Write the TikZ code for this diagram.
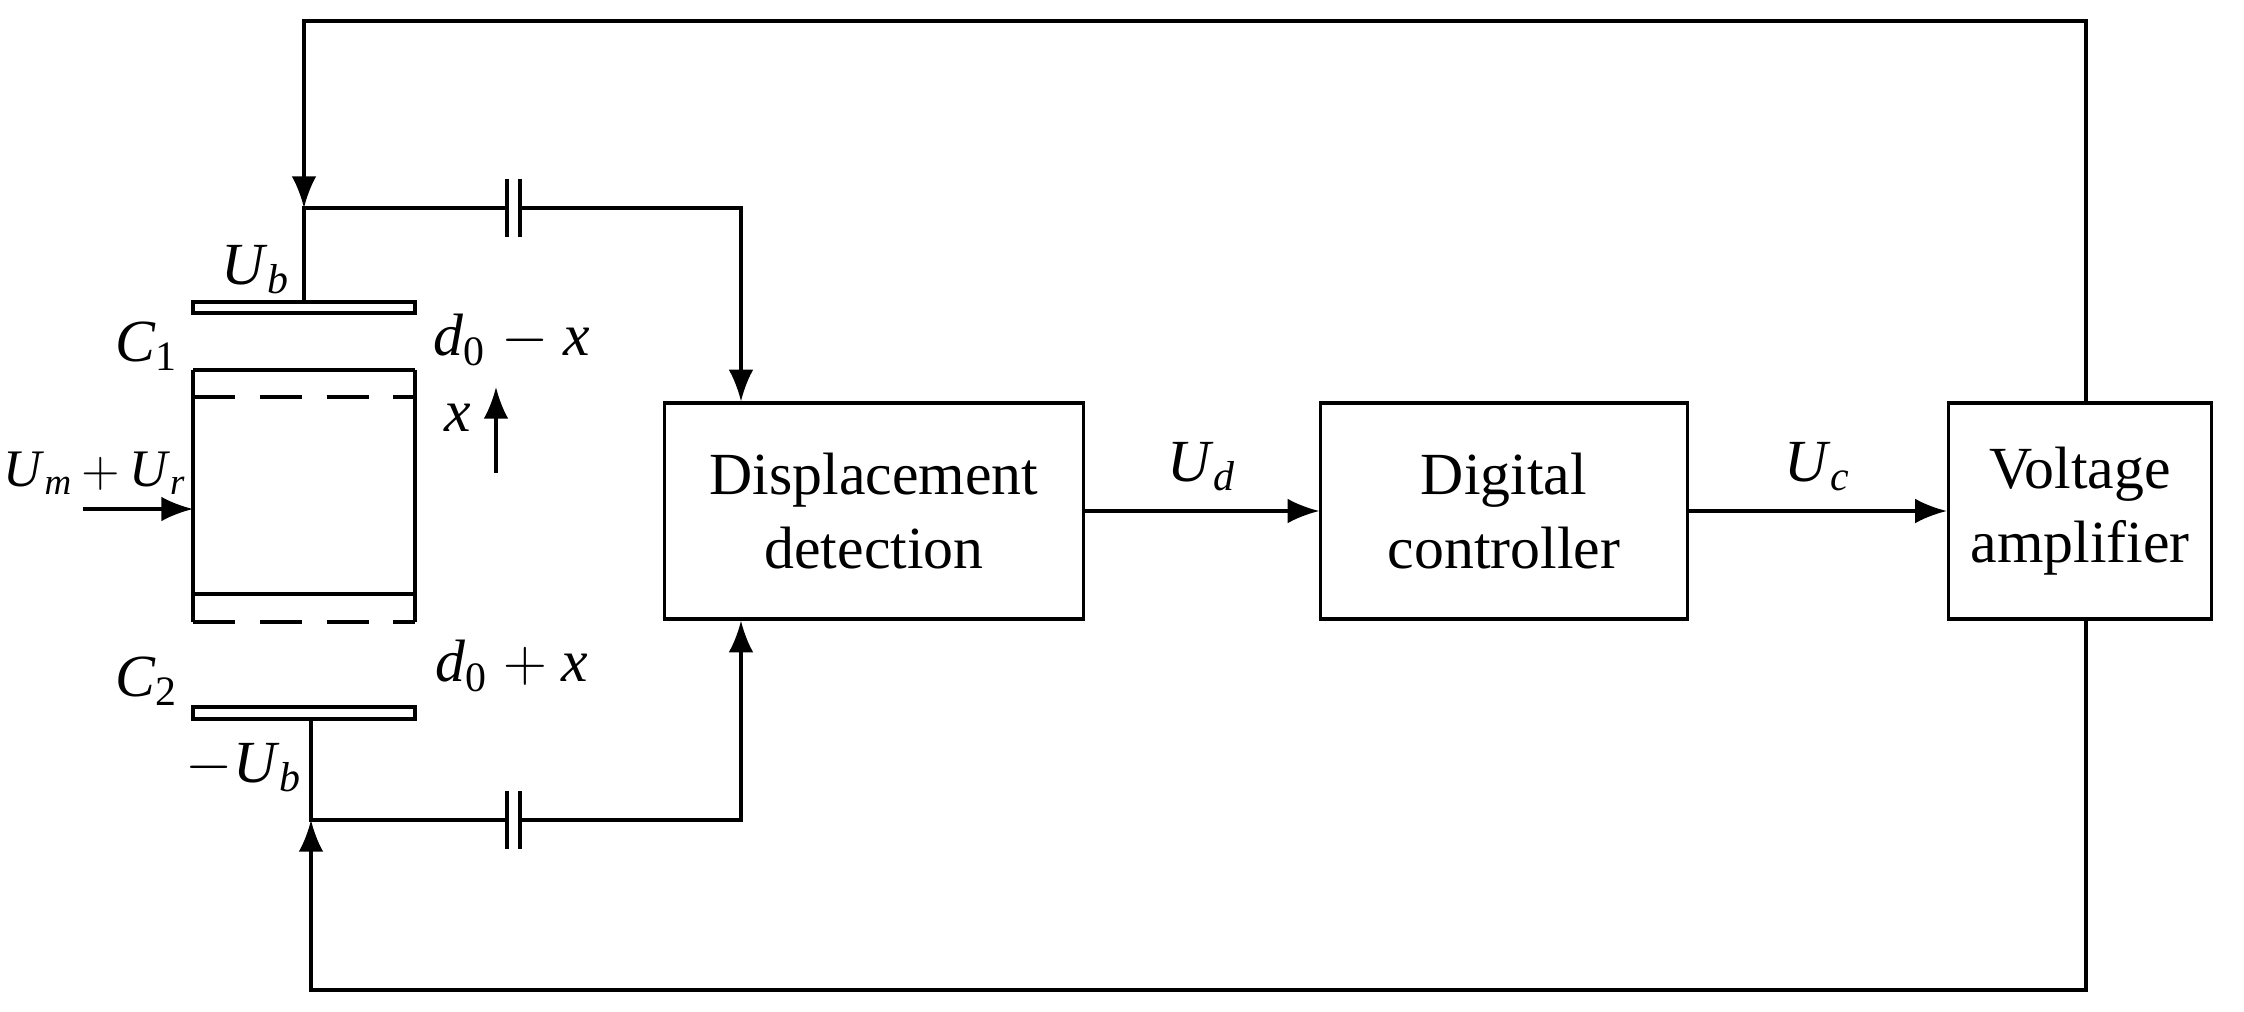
\documentclass[tikz,border=0pt]{standalone}
\usepackage{fontspec}
\setmainfont{Liberation Serif}
\usepackage{tikz}
\usetikzlibrary{arrows.meta,positioning}

\newcommand{\vsym}[2]{\textit{#1}\textsubscript{#2}}

\begin{document}
\begin{tikzpicture}[x=0.01cm,y=-0.01cm,line width=0.9pt,
	block/.style={draw,line width=0.9pt,minimum width=4.18cm,minimum height=2.16cm,align=center,font=\fontsize{17}{21}\selectfont},
	signal/.style={-{Latex[length=9pt,width=7pt]}},
	lbl/.style={font=\fontsize{17}{20}\selectfont}]

	\useasboundingbox (0,0) rectangle (2244,1011);

	% blocks
	\node[block] (detect) at (874,511) {Displacement\\detection};
	\node[block,minimum width=3.66cm] (ctrl) at (1504,511) {Digital\\controller};
	\node[block,minimum width=2.63cm] (amp) at (2080,511) {Voltage\\amplifier};

	\draw[signal] (detect) -- node[lbl,above=2pt] {\vsym{U}{\textit{d}}} (ctrl);
	\draw[signal] (ctrl) -- node[lbl,above=2pt] {\vsym{U}{\textit{c}}} (amp);

	% capacitor plates and proof mass
	\draw (193,302) rectangle (415,313);
	\draw (193,707) rectangle (415,719);
	\draw (193,370) -- (415,370);
	\draw (193,594) -- (415,594);
	\draw (193,370) -- (193,622);
	\draw (415,370) -- (415,622);
	\draw[dashed,dash pattern=on 12pt off 7pt] (193,397) -- (415,397);
	\draw[dashed,dash pattern=on 12pt off 7pt] (193,622) -- (415,622);

	\coordinate (mass) at (193,509);
	\coordinate (inp) at (83,509);
	\draw[signal] (inp) -- (mass);
	\node[lbl,font=\fontsize{15}{18}\selectfont,inner sep=0pt] at (95,473) {\vsym{U}{\textit{m}}\,$+$\,\vsym{U}{\textit{r}}};

	\node[lbl] at (147,346) {\vsym{C}{1}};
	\node[lbl] at (147,681) {\vsym{C}{2}};
	\node[lbl] at (256,270) {\vsym{U}{\textit{b}}};
	\node[lbl] at (244,768) {$-$\vsym{U}{\textit{b}}};
	\node[lbl] at (512,340) {\vsym{d}{0} $-$ \textit{x}};
	\node[lbl] at (512,666) {\vsym{d}{0} $+$ \textit{x}};
	\node[lbl] at (458,418) {\textit{x}};
	\coordinate (xa) at (496,473);
	\coordinate (xb) at (496,387);
	\draw[signal] (xa) -- (xb);

	% pick-off lines with coupling capacitors
	\coordinate (jt) at (304,208);
	\coordinate (jb) at (311,820);
	\coordinate (dt) at (741,208);
	\coordinate (db) at (741,820);
	\draw (304,302) -- (jt) -- (507,208);
	\draw (507,179) -- (507,237) (520,179) -- (520,237);
	\draw[signal] (520,208) -- (dt) -- (dt |- detect.north);
	\draw (311,719) -- (jb) -- (507,820);
	\draw (507,791) -- (507,849) (520,791) -- (520,849);
	\draw[signal] (520,820) -- (db) -- (db |- detect.south);

	% feedback from the amplifier
	\coordinate (ftop) at (2086,21);
	\coordinate (fbot) at (2086,990);
	\draw[signal] (amp.north -| ftop) -- (ftop) -- (304,21) -- (jt);
	\draw[signal] (amp.south -| fbot) -- (fbot) -- (311,990) -- (jb);
\end{tikzpicture}
\end{document}
